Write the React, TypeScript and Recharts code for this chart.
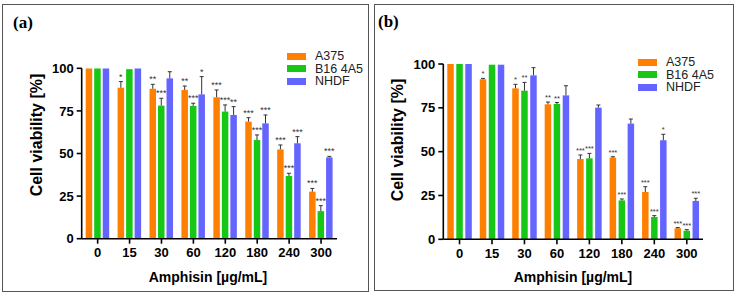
import { BarChart, Bar, XAxis, YAxis } from "recharts";

// Amphisin dose series (µg/mL), shared by both panels
const doses = ["0", "15", "30", "60", "120", "180", "240", "300"];
const yTicks = [0, 25, 50, 75, 100];

// panel (a)
const a375A = [100, 88.6, 88.0, 87.3, 83.0, 68.7, 52.4, 27.6];
const a375AErr = [0, 3.6, 2.6, 2.3, 4.3, 2.3, 2.6, 1.9];
const a375AStars = ["", "*", "**", "**", "***", "***", "***", "***"];
const b16A = [100, 99.5, 78.1, 77.9, 74.6, 57.9, 36.8, 16.2];
const b16AErr = [0, 0, 4.3, 1.6, 3.9, 3.0, 1.6, 3.2];
const b16AStars = ["", "", "***", "***", "***", "***", "***", "***"];
const nhdfA = [100, 100, 94.1, 84.7, 72.6, 67.7, 56.0, 47.7];
const nhdfAErr = [0, 0, 3.9, 10.4, 4.9, 4.9, 3.9, 0.6];
const nhdfAStars = ["", "", "", "*", "**", "***", "***", "***"];

// panel (b)
const a375B = [100, 91.3, 86.1, 77.0, 45.8, 46.6, 27.0, 6.3];
const a375BErr = [0, 0.5, 2.3, 1.3, 2.3, 0.5, 3.0, 0.4];
const a375BStars = ["", "*", "*", "**", "***", "***", "***", "***"];
const b16B = [100, 99.6, 84.8, 77.2, 46.2, 22.2, 12.7, 4.9];
const b16BErr = [0, 0, 4.7, 0.8, 2.8, 0.8, 0.8, 0.6];
const b16BStars = ["", "", "**", "**", "***", "***", "***", "***"];
const nhdfB = [100, 99.6, 93.5, 82.1, 75.1, 66.0, 56.5, 21.9];
const nhdfBErr = [0, 0, 4.4, 5.5, 1.5, 2.6, 3.4, 1.5];
const nhdfBStars = ["", "", "", "", "", "", "*", "***"];

const ORANGE = "#FF8000";
const GREEN = "#16C716";
const BLUE = "#6464FF";
const FONT = "'Liberation Sans', Arial, sans-serif";

const legendItems = [
  { name: "A375", color: ORANGE },
  { name: "B16 4A5", color: GREEN },
  { name: "NHDF", color: BLUE },
];

// bar + upper-only error whisker + significance stars, all from the bar's own geometry
function barShape(key: string, errs: number[], stars: string[], starSize: number) {
  return (props: any) => {
    const { x, y, width, height, fill, index, payload } = props;
    const v = payload[key];
    const err = errs[index] || 0;
    const errPx = v > 0 ? (err * height) / v : 0;
    const cx = x + width / 2;
    const top = y - errPx;
    return (
      <g>
        <rect x={x} y={y} width={width} height={height} fill={fill} />
        {errPx > 0.4 && (
          <g stroke="#333" strokeWidth={1}>
            <line x1={cx} x2={cx} y1={y} y2={top} />
            <line x1={cx - 2} x2={cx + 2} y1={top} y2={top} />
          </g>
        )}
        {stars[index] && (
          <text x={cx} y={top - 2} textAnchor="middle" fontSize={starSize} fill="#333" fontFamily={FONT}>
            {stars[index]}
          </text>
        )}
      </g>
    );
  };
}

interface PanelProps {
  label: string;
  box: { left: number; top: number; width: number; height: number };
  chartLeft: number;
  chartWidth: number;
  margin: { top: number; right: number; bottom: number; left: number };
  series: { key: string; values: number[]; errs: number[]; stars: string[]; color: string }[];
  labelPos: { x: number; y: number };
  yTitle: { x: number; y: number };
  xTitle: { x: number; y: number };
  legend: { x: number; y: number };
  barGap: number;
  starSize: number;
}

function Panel(p: PanelProps) {
  const rows = doses.map((d, i) => {
    const r: Record<string, string | number> = { dose: d };
    p.series.forEach((s) => (r[s.key] = s.values[i]));
    return r;
  });
  const tickStyle = { fill: "#000", fontSize: 13, fontWeight: "bold", fontFamily: FONT };
  return (
    <>
      <div
        style={{
          position: "absolute",
          left: p.box.left,
          top: p.box.top,
          width: p.box.width,
          height: p.box.height,
          border: "1.5px solid #555",
          boxSizing: "border-box",
        }}
      />
      <div
        style={{
          position: "absolute",
          left: p.labelPos.x,
          top: p.labelPos.y,
          fontFamily: "'Liberation Serif', 'Times New Roman', serif",
          fontWeight: "bold",
          fontSize: 17,
          lineHeight: 1,
        }}
      >
        {p.label}
      </div>
      <div style={{ position: "absolute", left: p.chartLeft, top: 0 }}>
        <BarChart width={p.chartWidth} height={296} data={rows} margin={p.margin} barGap={p.barGap} barSize={6.5}>
          <XAxis
            dataKey="dose"
            tick={tickStyle}
            tickSize={5}
            tickMargin={4}
            axisLine={{ stroke: "#000", strokeWidth: 1.6 }}
            tickLine={{ stroke: "#000", strokeWidth: 1.6 }}
            height={30}
            interval={0}
          />
          <YAxis
            domain={[0, 100]}
            ticks={yTicks}
            tick={tickStyle}
            tickSize={5}
            tickMargin={3}
            axisLine={{ stroke: "#000", strokeWidth: 1.6 }}
            tickLine={{ stroke: "#000", strokeWidth: 1.6 }}
            width={40}
            allowDataOverflow
          />
          {p.series.map((s) => (
            <Bar
              key={s.key}
              dataKey={s.key}
              fill={s.color}
              isAnimationActive={false}
              shape={barShape(s.key, s.errs, s.stars, p.starSize)}
            />
          ))}
        </BarChart>
      </div>
      <div
        style={{
          position: "absolute",
          left: p.yTitle.x,
          top: p.yTitle.y,
          transform: "translate(-50%, -50%) rotate(-90deg)",
          whiteSpace: "nowrap",
          fontFamily: FONT,
          fontWeight: "bold",
          fontSize: 16,
          lineHeight: 1,
        }}
      >
        Cell viability [%]
      </div>
      <div
        style={{
          position: "absolute",
          left: p.xTitle.x,
          top: p.xTitle.y,
          transform: "translate(-50%, -50%)",
          whiteSpace: "nowrap",
          fontFamily: FONT,
          fontWeight: "bold",
          fontSize: 14,
          lineHeight: 1,
        }}
      >
        Amphisin [µg/mL]
      </div>
      <div style={{ position: "absolute", left: p.legend.x, top: p.legend.y, fontFamily: FONT, fontSize: 12.5, color: "#222" }}>
        {legendItems.map((it) => (
          <div key={it.name} style={{ display: "flex", alignItems: "center", height: 12.5, lineHeight: 1 }}>
            <span style={{ display: "inline-block", width: 19, height: 7, background: it.color, marginRight: 9 }} />
            {it.name}
          </div>
        ))}
      </div>
    </>
  );
}

export default function App() {
  return (
    <div style={{ position: "absolute", left: 0, top: 0, width: 737, height: 296, background: "#fff" }}>
      <Panel
        label="(a)"
        box={{ left: 2, top: 4, width: 367, height: 288 }}
        chartLeft={0}
        chartWidth={370}
        margin={{ top: 68.3, right: 33, bottom: 27.3, left: 41.7 }}
        barGap={2}
        starSize={9}
        series={[
          { key: "a375", values: a375A, errs: a375AErr, stars: a375AStars, color: ORANGE },
          { key: "b16", values: b16A, errs: b16AErr, stars: b16AStars, color: GREEN },
          { key: "nhdf", values: nhdfA, errs: nhdfAErr, stars: nhdfAStars, color: BLUE },
        ]}
        labelPos={{ x: 13, y: 14 }}
        yTitle={{ x: 37, y: 135 }}
        xTitle={{ x: 208, y: 277 }}
        legend={{ x: 287, y: 50 }}
      />
      <Panel
        label="(b)"
        box={{ left: 374, top: 4, width: 360, height: 287 }}
        chartLeft={370}
        chartWidth={367}
        margin={{ top: 64, right: 34, bottom: 26.7, left: 33.3 }}
        barGap={2.5}
        starSize={7.5}
        series={[
          { key: "a375", values: a375B, errs: a375BErr, stars: a375BStars, color: ORANGE },
          { key: "b16", values: b16B, errs: b16BErr, stars: b16BStars, color: GREEN },
          { key: "nhdf", values: nhdfB, errs: nhdfBErr, stars: nhdfBStars, color: BLUE },
        ]}
        labelPos={{ x: 378, y: 13 }}
        yTitle={{ x: 398, y: 140 }}
        xTitle={{ x: 573, y: 277 }}
        legend={{ x: 638, y: 56 }}
      />
    </div>
  );
}
